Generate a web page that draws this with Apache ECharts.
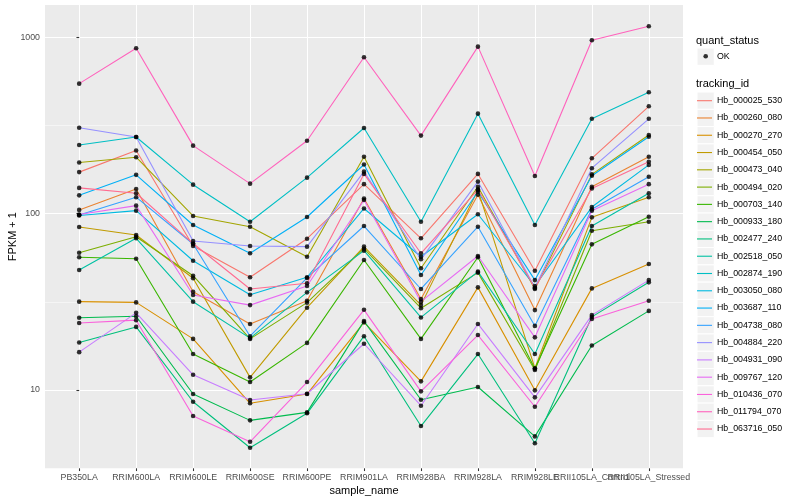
<!DOCTYPE html>
<html>
<head>
<meta charset="utf-8">
<script src="https://cdn.jsdelivr.net/npm/echarts@6/dist/echarts.min.js"></script>
<style>html,body{margin:0;padding:0;background:#fff}#chart{width:800px;height:500px}</style>
</head>
<body>
<div id="chart"></div>
<script>
// ---------- data ----------
const categories = ['PB350LA','RRIM600LA','RRIM600LE','RRIM600SE','RRIM600PE','RRIM901LA','RRIM928BA','RRIM928LA','RRIM928LE','RRII105LA_Control','RRII105LA_Stressed'];
const yTickValues = [10, 100, 1000];
const yMinorBreaks = [31.62, 316.2];
const trackingIds = ['Hb_000025_530','Hb_000260_080','Hb_000270_270','Hb_000454_050','Hb_000473_040','Hb_000494_020','Hb_000703_140','Hb_000933_180','Hb_002477_240','Hb_002518_050','Hb_002874_190','Hb_003050_080','Hb_003687_110','Hb_004738_080','Hb_004884_220','Hb_004931_090','Hb_009767_120','Hb_010436_070','Hb_011794_070','Hb_063716_050'];
const quantStatus = ['OK'];

const Hb_000025_530 = [172, 228, 65.6, 43.6, 72.1, 147, 72.5, 168, 47.5, 206, 406];
const Hb_000260_080 = [105, 138, 36.1, 23.7, 32.1, 122, 32.8, 128, 28.4, 142, 210];
const Hb_000270_270 = [31.7, 31.4, 19.5, 8.41, 9.49, 24.2, 11.2, 38.2, 9.96, 37.7, 51.8];
const Hb_000454_050 = [84, 75.7, 43, 11.8, 29.3, 65, 30.3, 136, 13.3, 95.3, 124];
const Hb_000473_040 = [195, 209, 97, 84.3, 57, 210, 49, 142, 37.4, 167, 279];
const Hb_000494_020 = [60, 74, 44.5, 19.5, 31.3, 63.3, 29.1, 46.3, 13, 80, 90];
const Hb_000703_140 = [56.6, 55.5, 16, 11.1, 18.5, 54.6, 19.5, 56.6, 13.2, 67, 96];
const Hb_000933_180 = [25.7, 26.2, 9.49, 6.73, 7.47, 24.6, 8.81, 10.4, 5.46, 17.9, 28.1];
const Hb_002477_240 = [18.6, 22.8, 8.58, 4.71, 7.38, 20.2, 6.25, 16, 4.99, 26, 40.8];
const Hb_002518_050 = [47.9, 72.5, 31.7, 19.7, 35.8, 61.7, 25.8, 46.9, 16, 85.1, 130.5];
const Hb_002874_190 = [245, 272, 146, 90, 160, 306, 90, 369, 86.2, 345, 488];
const Hb_003050_080 = [97.6, 104, 54.1, 34.7, 43.6, 107, 57, 99.2, 38.9, 109, 189];
const Hb_003687_110 = [127, 166, 86.2, 59.6, 95.7, 190, 44.9, 133, 42, 164, 273];
const Hb_004738_080 = [98.2, 124, 67.3, 20.2, 43.2, 85.1, 37.4, 84.3, 23.1, 106, 162];
const Hb_004884_220 = [307, 272, 70, 65.6, 65, 173, 55.1, 152, 38, 181, 345];
const Hb_004931_090 = [16.4, 27.4, 12.2, 8.78, 9.53, 18.3, 8.15, 23.7, 9.09, 26.6, 42];
const Hb_009767_120 = [99, 111, 34.6, 30.3, 38.9, 119.5, 31.7, 57.5, 19.9, 104, 147];
const Hb_010436_070 = [24, 24.9, 7.12, 5.09, 11.1, 28.5, 9.83, 20.5, 8.04, 25.3, 32.1];
const Hb_011794_070 = [546, 866, 243, 148, 259, 770, 277, 885, 163.5, 962, 1155];
const Hb_063716_050 = [140, 130.5, 67.7, 37.4, 40.3, 168, 59.6, 137, 37.9, 139, 197];

const seriesValues = [Hb_000025_530, Hb_000260_080, Hb_000270_270, Hb_000454_050, Hb_000473_040,
  Hb_000494_020, Hb_000703_140, Hb_000933_180, Hb_002477_240, Hb_002518_050, Hb_002874_190,
  Hb_003050_080, Hb_003687_110, Hb_004738_080, Hb_004884_220, Hb_004931_090, Hb_009767_120,
  Hb_010436_070, Hb_011794_070, Hb_063716_050];

// ---------- styling ----------
const hueColors = ['#F8766D','#EA8331','#D89000','#C09B00','#A3A500','#7CAE00','#39B600','#00BB4E','#00BF7D','#00C1A3','#00BFC4','#00BAE0','#00B0F6','#35A2FF','#9590FF','#C77CFF','#E76BF3','#FA62DB','#FF62BC','#FF6C91'];
const FONT = 'Liberation Sans, Arial, Helvetica, sans-serif';
const KEY = 17.28;
const LEG_LEFT = 697;
const LEG_TOP = 92.06;
const OK_TOP = 48.06;

const catIdx = categories.map((c, i) => i);
const evenIdx = catIdx.filter(i => i % 2 === 0);
const oddIdx = catIdx.filter(i => i % 2 === 1);

const lineSeries = trackingIds.map((id, k) => ({
  name: id,
  type: 'line',
  symbol: 'none',
  data: seriesValues[k].map((v, i) => [i, v]),
  lineStyle: { width: 1.1, color: hueColors[k] },
  itemStyle: { color: hueColors[k] },
  emphasis: { disabled: true },
  silent: true,
  z: 2
}));

const pointData = [];
seriesValues.forEach(arr => arr.forEach((v, i) => pointData.push([i, v])));

const pointSeries = {
  name: quantStatus[0],
  type: 'scatter',
  data: pointData,
  symbol: 'circle',
  symbolSize: 4.6,
  itemStyle: { color: '#000' },
  emphasis: { disabled: true },
  silent: true,
  z: 3
};

const keyRects = [{
  type: 'rect', z: 0,
  shape: { x: LEG_LEFT, y: OK_TOP, width: KEY, height: KEY },
  style: { fill: '#F2F2F2', stroke: '#fff', lineWidth: 1 }
}].concat(trackingIds.map((id, k) => ({
  type: 'rect', z: 0,
  shape: { x: LEG_LEFT, y: LEG_TOP + k * KEY, width: KEY, height: KEY },
  style: { fill: '#F2F2F2', stroke: '#fff', lineWidth: 1 }
})));

const xLabelStyle = { formatter: v => categories[Math.round(v)], fontSize: 8.8, color: '#4D4D4D', margin: 5, fontFamily: FONT, hideOverlap: false, showMinLabel: true, showMaxLabel: true };

const chart = echarts.init(document.getElementById('chart'), null, { renderer: 'canvas' });
chart.setOption({
  animation: false,
  backgroundColor: '#ffffff',
  textStyle: { fontFamily: FONT },
  grid: { left: 45, right: 117, top: 5, bottom: 31.7, show: true, backgroundColor: '#EBEBEB', borderWidth: 0, containLabel: false, outerBoundsMode: 'none' },
  xAxis: [{
    type: 'value', min: -0.6, max: 10.6, position: 'bottom',
    axisLine: { show: false },
    axisTick: { show: true, length: 2.75, lineStyle: { color: '#333333', width: 1.07 }, customValues: catIdx },
    axisLabel: Object.assign({ customValues: evenIdx }, xLabelStyle),
    splitLine: { show: true, lineStyle: { color: '#ffffff', width: 1.07 } },
    name: 'sample_name', nameLocation: 'middle', nameGap: 17, nameMoveOverlap: false,
    nameTextStyle: { fontSize: 11, color: '#000', fontFamily: FONT }
  }, {
    type: 'value', min: -0.6, max: 10.6, position: 'bottom', offset: 0,
    axisLine: { show: false },
    axisTick: { show: false, customValues: oddIdx },
    axisLabel: Object.assign({ customValues: oddIdx }, xLabelStyle),
    splitLine: { show: false }
  }],
  yAxis: [{
    type: 'log', logBase: 10, min: 3.6, max: 1524,
    axisLine: { show: false },
    axisTick: { show: true, length: 2.75, lineStyle: { color: '#333333', width: 1.07 }, customValues: yTickValues },
    axisLabel: { customValues: yTickValues, formatter: v => String(Math.round(v)), fontSize: 8.8, color: '#4D4D4D', margin: 5, fontFamily: FONT, hideOverlap: false },
    splitLine: { show: true, lineStyle: { color: '#ffffff', width: 1.07 } },
    name: 'FPKM + 1', nameLocation: 'middle', nameGap: 27, nameMoveOverlap: false,
    nameTextStyle: { fontSize: 11, color: '#000', fontFamily: FONT }
  }, {
    type: 'log', logBase: 10, min: 3.6, max: 1524, position: 'left',
    axisLine: { show: false },
    axisTick: { show: false, customValues: yMinorBreaks },
    axisLabel: { show: false },
    splitLine: { show: true, lineStyle: { color: '#ffffff', width: 0.53 } }
  }],
  legend: [{
    orient: 'vertical', left: 703.4, top: 51.7, padding: 0,
    itemWidth: 4.6, itemHeight: 4.6, itemGap: 0,
    data: quantStatus, selectedMode: false,
    icon: 'circle',
    itemStyle: { color: '#000' },
    textStyle: { fontSize: 8.8, color: '#000', fontFamily: FONT, padding: [0, 0, 0, 4] }
  }, {
    orient: 'vertical', left: LEG_LEFT - 1.14, top: LEG_TOP, padding: 0,
    itemWidth: 15, itemHeight: KEY / 0.8, itemGap: 0,
    data: trackingIds, selectedMode: false,
    itemStyle: { color: 'rgba(0,0,0,0)', borderColor: 'rgba(0,0,0,0)', borderWidth: 0 },
    lineStyle: { width: 1.1 },
    textStyle: { fontSize: 8.8, color: '#000', fontFamily: FONT }
  }],
  graphic: keyRects.concat([
    { type: 'text', z: 1, style: { text: 'quant_status', x: 696, y: 41, font: '11px ' + FONT, fill: '#000', verticalAlign: 'middle', align: 'left' } },
    { type: 'text', z: 1, style: { text: 'tracking_id', x: 696, y: 84, font: '11px ' + FONT, fill: '#000', verticalAlign: 'middle', align: 'left' } }
  ]),
  series: lineSeries.concat([pointSeries])
});
</script>
</body>
</html>
